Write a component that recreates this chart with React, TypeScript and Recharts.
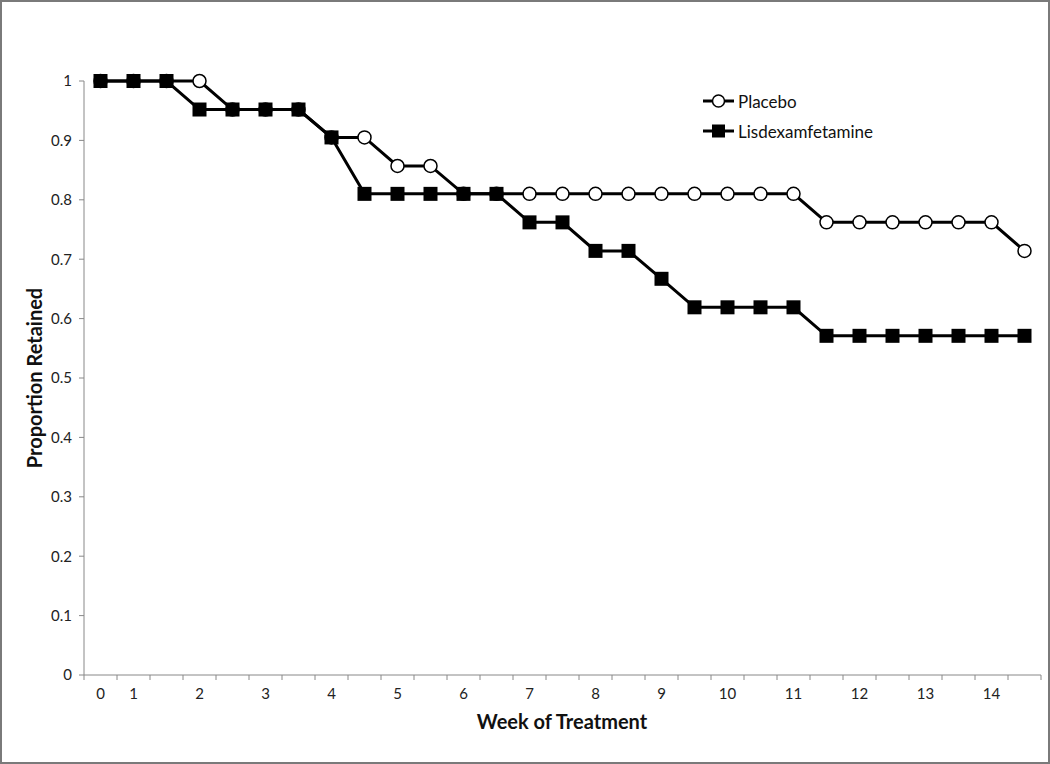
import React from 'react';
import { LineChart, Line, XAxis, YAxis } from 'recharts';

// category labels for each weekly/half-weekly visit (Excel-style category axis)
const categories = ['0', '1', '', '2', '', '3', '', '4', '', '5', '', '6', '', '7', '', '8', '', '9', '', '10', '', '11', '', '12', '', '13', '', '14', ''];

const placebo = [1, 1, 1, 1, 0.952, 0.952, 0.952, 0.905, 0.905, 0.857, 0.857, 0.81, 0.81, 0.81, 0.81, 0.81, 0.81, 0.81, 0.81, 0.81, 0.81, 0.81, 0.762, 0.762, 0.762, 0.762, 0.762, 0.762, 0.714];
const lisdexamfetamine = [1, 1, 1, 0.952, 0.952, 0.952, 0.952, 0.905, 0.81, 0.81, 0.81, 0.81, 0.81, 0.762, 0.762, 0.714, 0.714, 0.667, 0.619, 0.619, 0.619, 0.619, 0.571, 0.571, 0.571, 0.571, 0.571, 0.571, 0.571];

const yTicks = [0, 0.1, 0.2, 0.3, 0.4, 0.5, 0.6, 0.7, 0.8, 0.9, 1];

const data = categories.map((label, i) => ({
  idx: i,
  label,
  placebo: placebo[i],
  lisdex: lisdexamfetamine[i],
}));

// tick marks sit between categories
const boundaries = [...categories.map((_, i) => i - 0.5), categories.length - 0.5];

const FONT = 'Lato, "Open Sans", sans-serif';
const W = 1050;
const H = 764;
const LEFT = 84;
const RIGHT = 9;
const HALF_BAND = (W - LEFT - RIGHT) / categories.length / 2;

const XTick = (props: any) => {
  const { x, y, payload } = props;
  const i = Math.round(payload.value + 0.5);
  const text = categories[i];
  if (!text) return null;
  return (
    <text x={x + HALF_BAND} y={y} dy={17} textAnchor="middle" fontSize={15} fill="#222" fontFamily={FONT}>
      {text}
    </text>
  );
};

const SquareDot = (props: any) => {
  const { cx, cy } = props;
  if (cx == null || cy == null) return null;
  return <rect x={cx - 7} y={cy - 7} width={14} height={14} fill="#000" />;
};

const LegendBox = () => (
  <div style={{ position: 'absolute', left: 700, top: 84, fontFamily: FONT, fontSize: 17, color: '#111' }}>
    <div style={{ display: 'flex', alignItems: 'center', height: 30 }}>
      <svg width={34} height={16}>
        <line x1={1} y1={8} x2={32} y2={8} stroke="#000" strokeWidth={3} />
        <circle cx={16.5} cy={8} r={6} fill="#fff" stroke="#000" strokeWidth={1.5} />
      </svg>
      <span style={{ marginLeft: 2 }}>Placebo</span>
    </div>
    <div style={{ display: 'flex', alignItems: 'center', height: 30 }}>
      <svg width={34} height={16}>
        <line x1={1} y1={8} x2={32} y2={8} stroke="#000" strokeWidth={3} />
        <rect x={10} y={1.5} width={13} height={13} fill="#000" />
      </svg>
      <span style={{ marginLeft: 2 }}>Lisdexamfetamine</span>
    </div>
  </div>
);

const App: React.FC = () => {
  return (
    <div
      style={{
        position: 'absolute',
        left: 0,
        top: 0,
        width: W,
        height: H,
        boxSizing: 'border-box',
        border: '2px solid #7a7a7a',
        background: '#fff',
        fontFamily: FONT,
      }}
    >
      <div style={{ position: 'absolute', left: -2, top: -2 }}>
        <LineChart width={W} height={H} data={data} margin={{ top: 81, right: RIGHT, bottom: 0, left: 0 }}>
          <XAxis
            dataKey="idx"
            type="number"
            domain={[-0.5, categories.length - 0.5]}
            ticks={boundaries}
            interval={0}
            height={89}
            stroke="#888"
            tickSize={5}
            tickLine={{ stroke: '#888' }}
            tick={<XTick />}
          />
          <YAxis
            type="number"
            domain={[0, 1]}
            ticks={yTicks}
            interval={0}
            width={LEFT}
            stroke="#888"
            tickSize={5}
            tickMargin={7}
            tickLine={{ stroke: '#888' }}
            tick={{ fontSize: 15, fill: '#222', fontFamily: FONT }}
          />
          <Line
            dataKey="placebo"
            name="Placebo"
            stroke="#000"
            strokeWidth={3}
            dot={{ r: 6.5, fill: '#fff', stroke: '#000', strokeWidth: 1.5 }}
            activeDot={false}
            isAnimationActive={false}
          />
          <Line
            dataKey="lisdex"
            name="Lisdexamfetamine"
            stroke="#000"
            strokeWidth={3}
            dot={<SquareDot />}
            activeDot={false}
            isAnimationActive={false}
          />
        </LineChart>
      </div>
      <LegendBox />
      <div
        style={{
          position: 'absolute',
          left: 34 - 2,
          top: 378 - 2,
          transform: 'translate(-50%, -50%) rotate(-90deg)',
          fontWeight: 700,
          fontSize: 20,
          whiteSpace: 'nowrap',
          color: '#111',
        }}
      >
        Proportion Retained
      </div>
      <div
        style={{
          position: 'absolute',
          left: 562 - 2,
          top: 721 - 2,
          transform: 'translate(-50%, -50%)',
          fontWeight: 700,
          fontSize: 20,
          whiteSpace: 'nowrap',
          color: '#111',
        }}
      >
        Week of Treatment
      </div>
    </div>
  );
};

export default App;
